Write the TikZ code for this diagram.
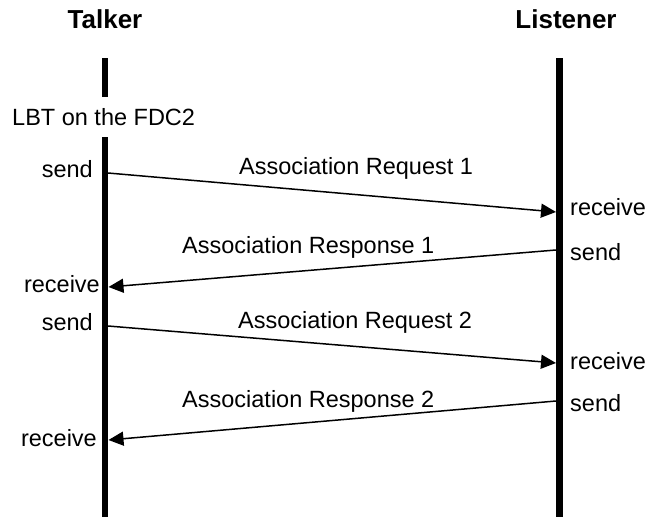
\documentclass[tikz,border=0pt]{standalone}
\usepackage{fontspec}
\setmainfont{Liberation Sans}
\usepackage{tikz}
\usetikzlibrary{arrows.meta}
\tikzset{
  lifeline/.style={line width=6.5pt},
  msg/.style={line width=1.5pt,-{Triangle[length=15pt,width=14pt]}},
  txt/.style={inner sep=0pt,font=\fontsize{23.5}{28}\selectfont},
  head/.style={inner sep=0pt,font=\fontsize{26}{30}\selectfont\bfseries}
}

\begin{document}
\begin{tikzpicture}[x=1pt,y=-1pt]
   \useasboundingbox (0,0) rectangle (649,517);
   \node[head,anchor=base] (talker) at (105,28) {Talker};
   \node[head,anchor=base] (listener) at (566,28) {Listener};
   \node[txt,anchor=base west] (lbt) at (12,125) {LBT on the FDC2};
   % lifelines
   \coordinate (ttop) at (105,58);
   \coordinate (tgapa) at (105,97);
   \coordinate (tgapb) at (105,137);
   \coordinate (tbot) at (105,517);
   \coordinate (ltop) at (559.5,58);
   \coordinate (lbot) at (559.5,517);
   \draw[lifeline] (ttop) -- (tgapa);
   \draw[lifeline] (tgapb) -- (tbot);
   \draw[lifeline] (ltop) -- (lbot);
   % message ends
   \coordinate (ts1) at (108,173);   \coordinate (lr1) at (556,212);
   \coordinate (ls2) at (556,250);   \coordinate (tr2) at (108.5,287);
   \coordinate (ts3) at (108,326);   \coordinate (lr3) at (556,363);
   \coordinate (ls4) at (556,401);   \coordinate (tr4) at (108.5,440);
   \draw[msg] (ts1) -- (lr1);
   \draw[msg] (ls2) -- (tr2);
   \draw[msg] (ts3) -- (lr3);
   \draw[msg] (ls4) -- (tr4);
   % labels
   \node[txt,anchor=base east] (send1) at (93,177) {send};
   \node[txt,anchor=base west] (req1) at (239,174) {Association Request 1};
   \node[txt,anchor=base west] (recv1) at (570,215) {receive};
   \node[txt,anchor=base west] (send2) at (570,260) {send};
   \node[txt,anchor=base west] (resp1) at (182,253) {Association Response 1};
   \node[txt,anchor=base east] (recv2) at (100,292) {receive};
   \node[txt,anchor=base east] (send3) at (93,330) {send};
   \node[txt,anchor=base west] (req2) at (238,328) {Association Request 2};
   \node[txt,anchor=base west] (recv3) at (570,369) {receive};
   \node[txt,anchor=base west] (resp2) at (182,407) {Association Response 2};
   \node[txt,anchor=base west] (send4) at (570,411) {send};
   \node[txt,anchor=base east] (recv4) at (97,446) {receive};
\end{tikzpicture}
\end{document}
